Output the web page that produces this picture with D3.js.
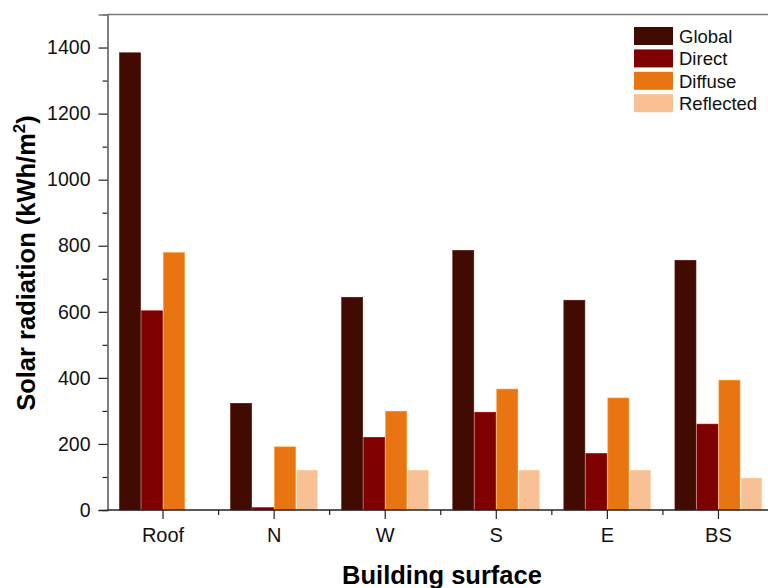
<!DOCTYPE html>
<html>
<head>
  <meta charset="utf-8">
  <style>
    body { margin: 0; background: #fff; }
    text { font-family: "Liberation Sans", Arial, sans-serif; }
  </style>
</head>
<body>
  <script src="https://d3js.org/d3.v7.min.js"></script>
  <script>
    var surfaces = ["Roof", "N", "W", "S", "E", "BS"];
    var seriesNames = ["Global", "Direct", "Diffuse", "Reflected"];
    var globalVals = [1384, 323, 644, 786, 635, 756];
    var directVals = [603, 7, 220, 296, 171, 260];
    var diffuseVals = [779, 191, 299, 366, 339, 393];
    var reflectedVals = [0, 121, 121, 121, 121, 97];
    var yTicks = [0, 200, 400, 600, 800, 1000, 1200, 1400];
    var colors = ["#420b01", "#7f0000", "#e97412", "#f8c095"];

    var series = [globalVals, directVals, diffuseVals, reflectedVals];
    var data = [];
    surfaces.forEach(function(s, i) {
      seriesNames.forEach(function(n, j) {
        data.push({surface: s, series: n, value: series[j][i], k: j});
      });
    });

    var W = 768, H = 588;
    var pLeft = 107.5, pTop = 14.5, pBottom = 510, pRight = 774;

    var svg = d3.select("body").append("svg")
        .attr("width", W)
        .attr("height", H);

    var x = d3.scaleBand().domain(surfaces).range([pLeft, pRight]);
    var inner = d3.scaleBand().domain(seriesNames).range([0, 88]);
    var y = d3.scaleLinear().domain([0, 1500]).range([pBottom, pTop]);

    // bars
    svg.append("g").selectAll("rect")
      .data(data)
      .enter().append("rect")
        .attr("x", function(d) { return x(d.surface) + x.bandwidth() / 2 - 44 + inner(d.series) + 0.5; })
        .attr("y", function(d) { return y(d.value); })
        .attr("width", inner.bandwidth() - 1)
        .attr("height", function(d) { return pBottom - y(d.value); })
        .attr("fill", function(d) { return colors[d.k]; })
        .attr("stroke", function(d) { return d.value > 0 ? d3.color(colors[d.k]).brighter(0.6) : "none"; })
        .attr("stroke-width", 0.6);

    // frame top
    svg.append("line")
      .attr("x1", pLeft).attr("x2", W)
      .attr("y1", pTop).attr("y2", pTop)
      .attr("stroke", "#777").attr("stroke-width", 1.5);

    // y axis
    var yMinor = d3.range(100, 1500, 200);
    var gy = svg.append("g").attr("transform", "translate(" + pLeft + ",0)");
    gy.call(d3.axisLeft(y).tickValues(yMinor).tickSize(5).tickFormat(""));
    gy.append("g").call(d3.axisLeft(y).tickValues(yTicks).tickSize(9).tickPadding(8).tickFormat(d3.format("d")));
    gy.selectAll("path").attr("stroke", "#777").attr("stroke-width", 1.5);
    gy.selectAll(".tick line").attr("stroke", "#222").attr("stroke-width", 1.2);
    gy.selectAll(".tick text").style("font-size", "19.5px").attr("fill", "#111");

    // x axis
    var gx = svg.append("g").attr("transform", "translate(0," + pBottom + ")");
    var xMinor = surfaces.slice(1).map(function(s) { return x(s); });
    gx.selectAll(".minor").data(xMinor).enter().append("line")
      .attr("x1", function(d) { return d; }).attr("x2", function(d) { return d; })
      .attr("y1", 0).attr("y2", 5)
      .attr("stroke", "#222").attr("stroke-width", 1.2);
    var ax = gx.append("g").call(d3.axisBottom(x).tickSize(9).tickPadding(9));
    ax.select("path").attr("stroke", "#222").attr("stroke-width", 1.5).attr("d", "M" + pLeft + ",0H" + W);
    ax.selectAll(".tick line").attr("stroke", "#222").attr("stroke-width", 1.2);
    ax.selectAll(".tick text").style("font-size", "20px").attr("fill", "#111");

    // axis titles
    svg.append("text")
      .attr("x", 442).attr("y", 584)
      .attr("text-anchor", "middle")
      .style("font-size", "25.5px").style("font-weight", "bold")
      .text("Building surface");

    var yt = svg.append("text")
      .attr("transform", "translate(35," + 263 + ") rotate(-90)")
      .attr("text-anchor", "middle")
      .style("font-size", "25.5px").style("font-weight", "bold");
    yt.append("tspan").text("Solar radiation (kWh/m");
    yt.append("tspan").attr("dy", -10).style("font-size", "17px").text("2");
    yt.append("tspan").attr("dy", 10).text(")");

    // legend
    var lg = svg.append("g").attr("transform", "translate(634,27)");
    seriesNames.forEach(function(n, i) {
      lg.append("rect")
        .attr("x", 0).attr("y", i * 22.4)
        .attr("width", 39).attr("height", 18)
        .attr("fill", colors[i]);
      lg.append("text")
        .attr("x", 45).attr("y", i * 22.4 + 16)
        .style("font-size", "18.5px").attr("fill", "#111")
        .text(n);
    });
  </script>
</body>
</html>
